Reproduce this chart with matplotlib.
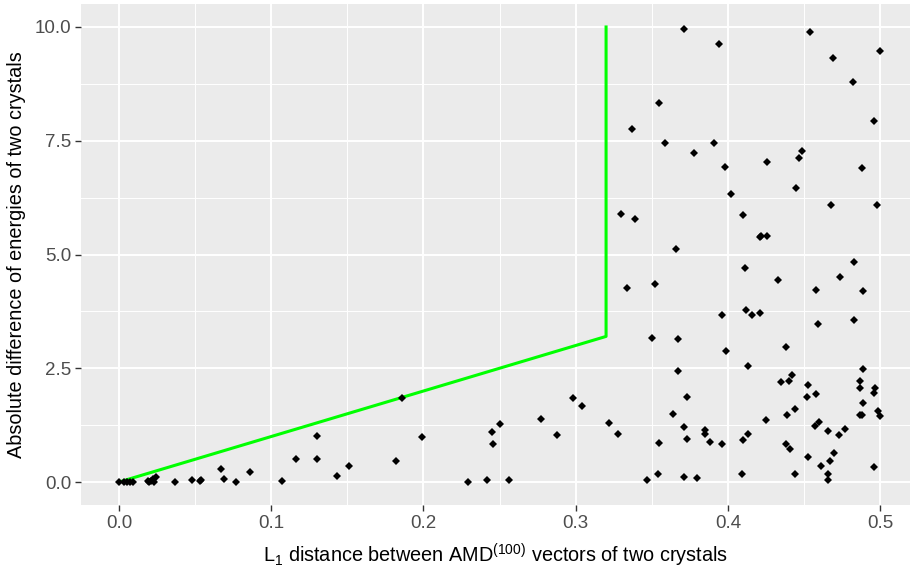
"""
Energy difference vs L1 distance between AMD vectors (ggplot-like look)
"""
import numpy as np
import matplotlib
matplotlib.use("Agg")
import matplotlib.pyplot as plt
from matplotlib.ticker import MultipleLocator

plt.rcParams['font.family'] = ['Liberation Sans', 'DejaVu Sans']
plt.rcParams['mathtext.default'] = 'regular'

# points
dist = [0.000, 0.003, 0.005, 0.007, 0.009,
        0.019, 0.020, 0.021, 0.023, 0.024, 0.022,
        0.037, 0.048, 0.053, 0.054, 0.067, 0.069, 0.077, 0.086, 0.107,
        0.116, 0.130, 0.130, 0.143, 0.151, 0.182, 0.186, 0.199, 0.229,
        0.242, 0.256, 0.245, 0.250, 0.246, 0.277, 0.288, 0.298, 0.304,
        0.322, 0.328,
        0.371, 0.394, 0.454, 0.469, 0.500, 0.482, 0.355, 0.496, 0.337,
        0.359, 0.391, 0.378, 0.398, 0.449, 0.447, 0.426, 0.488, 0.402,
        0.445, 0.468, 0.498, 0.330, 0.339, 0.410, 0.421, 0.422, 0.426,
        0.366,
        0.411, 0.483, 0.433, 0.474, 0.334, 0.352, 0.458, 0.489, 0.412,
        0.416, 0.421, 0.396, 0.459, 0.483, 0.350, 0.367, 0.438, 0.399,
        0.413, 0.367, 0.489, 0.442, 0.435, 0.440, 0.487, 0.487, 0.497,
        0.496, 0.453, 0.452, 0.458, 0.373, 0.489, 0.444, 0.439, 0.364,
        0.425, 0.487, 0.488, 0.499, 0.500, 0.371, 0.385, 0.385, 0.373,
        0.388, 0.396, 0.355, 0.413, 0.410, 0.457, 0.460, 0.466, 0.473,
        0.477, 0.438, 0.441, 0.470, 0.467, 0.453, 0.461, 0.496, 0.466,
        0.466, 0.444, 0.409, 0.354, 0.347, 0.371, 0.380]
energy = [0.00, 0.00, 0.01, 0.00, 0.01,
          0.02, 0.00, 0.03, 0.00, 0.12, 0.06,
          0.00, 0.04, 0.03, 0.04, 0.28, 0.06, 0.01, 0.22, 0.02,
          0.50, 1.02, 0.51, 0.14, 0.35, 0.47, 1.84, 1.00, 0.01,
          0.04, 0.05, 1.11, 1.27, 0.83, 1.38, 1.03, 1.84, 1.66,
          1.30, 1.05,
          9.96, 9.62, 9.90, 9.32, 9.48, 8.78, 8.34, 7.93, 7.75,
          7.44, 7.45, 7.22, 6.92, 7.28, 7.12, 7.03, 6.91, 6.32,
          6.47, 6.08, 6.08, 5.90, 5.78, 5.87, 5.38, 5.40, 5.40,
          5.11,
          4.71, 4.84, 4.44, 4.51, 4.26, 4.35, 4.21, 4.20, 3.77,
          3.66, 3.72, 3.66, 3.47, 3.56, 3.17, 3.15, 2.97, 2.88,
          2.55, 2.45, 2.49, 2.35, 2.19, 2.21, 2.22, 2.07, 2.07,
          1.95, 2.14, 1.87, 1.93, 1.87, 1.74, 1.60, 1.48, 1.50,
          1.36, 1.48, 1.48, 1.55, 1.46, 1.22, 1.14, 1.05, 0.95,
          0.89, 0.84, 0.86, 1.05, 0.93, 1.23, 1.33, 1.12, 1.03,
          1.16, 0.84, 0.73, 0.64, 0.47, 0.56, 0.36, 0.34, 0.18,
          0.04, 0.18, 0.18, 0.18, 0.04, 0.12, 0.09]

# threshold curve
line_x = [0.0, 0.32, 0.32]
line_y = [0.0, 3.2, 10.0]

x_ticks = [0.0, 0.1, 0.2, 0.3, 0.4, 0.5]
y_ticks = [0.0, 2.5, 5.0, 7.5, 10.0]

fig = plt.figure(figsize=(9.1, 5.71), dpi=100)
ax = fig.add_axes([81 / 910, 66 / 571, 829 / 910, 501 / 571])
ax.set_facecolor('#EBEBEB')
for sp in ax.spines.values():
    sp.set_visible(False)

ax.set_xlim(-0.025, 0.5197)
ax.set_ylim(-0.505, 10.505)
ax.set_xticks(x_ticks)
ax.set_yticks(y_ticks)
ax.set_xticklabels([f'{v:.1f}' for v in x_ticks])
ax.set_yticklabels([f'{v:.1f}' for v in y_ticks])
ax.xaxis.set_minor_locator(MultipleLocator(0.05))
ax.yaxis.set_minor_locator(MultipleLocator(1.25))
ax.tick_params(which='major', length=4, width=1.0, color='#333333',
               labelcolor='#4D4D4D', labelsize=13.5, pad=3)
ax.tick_params(which='minor', length=0)
ax.grid(which='major', color='white', lw=1.4)
ax.grid(which='minor', color='white', lw=0.7)
ax.set_axisbelow(True)

ax.plot(line_x, line_y, color='#00FF00', lw=2.2, zorder=2)
ax.plot(dist, energy, 'kD', ms=4, mew=0, zorder=3)

ax.set_xlabel(r'L$_1$ distance between AMD$^{(100)}$ vectors of two crystals',
              fontsize=14.3, labelpad=7)
ax.set_ylabel('Absolute difference of energies of two crystals',
              fontsize=14.3, labelpad=6)

fig.savefig('out.png', dpi=100)
